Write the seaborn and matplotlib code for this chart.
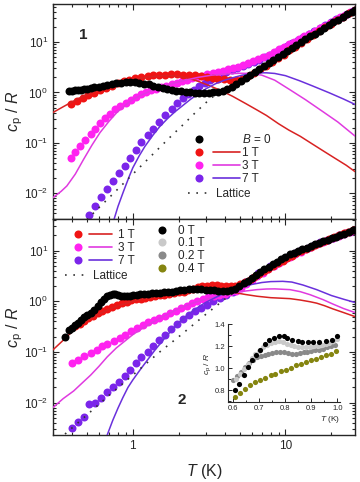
import matplotlib
matplotlib.use("Agg")
import matplotlib.pyplot as plt
import seaborn as sns
import numpy as np
import pandas as pd
from matplotlib.lines import Line2D
from matplotlib.legend_handler import HandlerTuple
from matplotlib.ticker import LogLocator, NullFormatter, MultipleLocator

# ---------------- panel 1 data ----------------
T1_b0 = [0.38, 0.40, 0.42, 0.44, 0.46, 0.48, 0.50, 0.53, 0.56, 0.60, 0.64, 0.68, 0.73, 0.78, 0.84,
         0.90, 0.96, 1.03, 1.10, 1.18, 1.27, 1.36, 1.46, 1.57, 1.68, 1.80, 1.93, 2.07, 2.22, 2.38,
         2.55, 2.73, 2.93, 3.14, 3.37, 3.61, 3.87, 4.15, 4.45, 4.77, 5.11, 5.48, 5.87, 6.30, 6.75,
         7.24, 7.76, 8.32, 8.92, 9.56, 10.25, 11.0, 11.8, 12.6, 13.5, 14.5, 15.6, 16.7, 17.9, 19.2,
         20.6, 22.1, 23.7, 25.4, 27.2, 28.4]
cp1_b0 = [1.08, 1.09, 1.10, 1.12, 1.14, 1.16, 1.18, 1.22, 1.26, 1.31, 1.36, 1.41, 1.47, 1.52, 1.56,
          1.58, 1.59, 1.58, 1.55, 1.50, 1.44, 1.37, 1.30, 1.24, 1.18, 1.13, 1.09, 1.05, 1.02, 1.00,
          0.99, 0.98, 0.98, 0.99, 1.00, 1.03, 1.08, 1.15, 1.28, 1.45, 1.68, 1.95, 2.20, 2.50, 2.85,
          3.30, 3.80, 4.40, 5.05, 5.80, 6.65, 7.6, 8.7, 9.9, 11.3, 12.9, 14.7, 16.7, 19.0, 21.6,
          24.5, 27.8, 31.5, 35.5, 40.0, 43.5]

T1_1T = [0.395, 0.43, 0.47, 0.51, 0.56, 0.61, 0.67, 0.73, 0.80, 0.87, 0.95, 1.04, 1.14, 1.25, 1.36,
         1.49, 1.63, 1.78, 1.95, 2.13, 2.33, 2.55, 2.78, 3.04, 3.33, 3.64, 3.98, 4.35, 4.75, 5.20,
         5.68, 6.21, 6.80, 7.43, 8.12, 8.88, 9.71, 10.6, 11.6, 12.7, 13.9, 15.2, 16.6, 18.2, 19.9,
         21.7, 23.8, 26.0, 28.4]
cp1_1T = [0.60, 0.68, 0.77, 0.87, 0.98, 1.10, 1.23, 1.37, 1.52, 1.66, 1.80, 1.92, 2.03, 2.12, 2.18,
          2.23, 2.26, 2.27, 2.27, 2.25, 2.22, 2.17, 2.10, 2.02, 1.94, 1.87, 1.82, 1.79, 1.80, 1.88,
          2.08, 2.40, 2.85, 3.35, 3.95, 4.75, 5.65, 6.8, 8.1, 9.7, 11.5, 13.8, 16.3, 19.5, 23.0,
          27.3, 32.0, 37.5, 44.0]

T1_3T = [0.395, 0.42, 0.45, 0.49, 0.53, 0.57, 0.61, 0.66, 0.71, 0.77, 0.83, 0.90, 0.97, 1.05, 1.13,
         1.22, 1.32, 1.43, 1.54, 1.66, 1.80, 1.94, 2.10, 2.27, 2.45, 2.64, 2.85, 3.08, 3.33, 3.59,
         3.88, 4.19, 4.52, 4.88, 5.27, 5.69, 6.15, 6.64, 7.17, 7.74, 8.36, 9.03, 9.75, 10.5, 11.4,
         12.3, 13.3, 14.3, 15.5, 16.7, 18.0, 19.5, 21.0, 22.7, 24.5, 26.5, 28.4]
cp1_3T = [0.051, 0.066, 0.087, 0.115, 0.147, 0.19, 0.25, 0.31, 0.38, 0.46, 0.54, 0.63, 0.72, 0.82, 0.92,
          1.01, 1.10, 1.18, 1.27, 1.36, 1.46, 1.56, 1.67, 1.78, 1.90, 2.02, 2.15, 2.28, 2.42, 2.56,
          2.72, 2.88, 3.05, 3.25, 3.50, 3.80, 4.15, 4.55, 5.0, 5.6, 6.3, 7.1, 8.0, 9.0, 10.2,
          11.5, 13.0, 14.6, 16.6, 18.7, 21.2, 24.0, 27.2, 30.8, 34.8, 39.5, 44.0]

T1_7T = [0.52, 0.57, 0.62, 0.68, 0.74, 0.81, 0.89, 0.96, 1.05, 1.14, 1.25, 1.36, 1.48, 1.63, 1.80,
         1.94, 2.12, 2.30, 2.50, 2.72, 2.95, 3.20, 3.48, 3.78, 4.10, 4.45, 4.83, 5.25, 5.70, 6.20,
         6.73, 7.31, 7.94, 8.62, 9.37, 10.2, 11.1, 12.0, 13.1, 14.2, 15.4, 16.8, 18.2, 19.8, 21.5,
         23.3, 25.4, 27.6]
cp1_7T = [0.0037, 0.0056, 0.0086, 0.012, 0.0175, 0.025, 0.035, 0.051, 0.072, 0.104, 0.143, 0.19, 0.26, 0.355, 0.46,
          0.62, 0.78, 0.95, 1.13, 1.33, 1.53, 1.75, 2.0, 2.25, 2.5, 2.75, 3.0, 3.3, 3.6, 4.0,
          4.45, 5.0, 5.6, 6.4, 7.3, 8.3, 9.5, 10.9, 12.5, 14.3, 16.4, 18.8, 21.5, 24.5, 28.0,
          32.0, 36.5, 41.5]

Tf1_1T = [0.30, 0.35, 0.40, 0.45, 0.50, 0.60, 0.70, 0.80, 0.90, 1.0, 1.2, 1.4, 1.6, 1.8, 2.0, 2.3, 2.7,
          3.2, 3.8, 4.5, 5.5, 6.5, 7.5, 9.0, 10.5, 12.5, 15, 18, 21, 25, 28.5]
cf1_1T = [0.40, 0.52, 0.65, 0.78, 0.90, 1.12, 1.32, 1.50, 1.65, 1.78, 1.98, 2.10, 2.16, 2.15, 2.08, 1.92, 1.65,
          1.35, 1.08, 0.84, 0.60, 0.45, 0.35, 0.24, 0.18, 0.135, 0.095, 0.067, 0.05, 0.036, 0.027]

Tf1_3T = [0.30, 0.34, 0.37, 0.42, 0.476, 0.54, 0.61, 0.70, 0.786, 0.88, 1.0, 1.15, 1.3, 1.5, 1.8, 2.2,
          2.7, 3.3, 4.0, 5.0, 6.0, 7.0, 8.5, 10.6, 13.5, 17.5, 22, 28.5]
cf1_3T = [0.0082, 0.011, 0.014, 0.024, 0.047, 0.09, 0.16, 0.27, 0.40, 0.54, 0.73, 0.90, 1.06, 1.25, 1.5, 1.75,
          2.0, 2.2, 2.32, 2.4, 2.38, 2.2, 1.75, 1.15, 0.72, 0.42, 0.26, 0.137]

Tf1_7T = [0.755, 0.80, 0.87, 0.95, 1.0, 1.1, 1.2, 1.35, 1.5, 1.7, 1.9, 2.14, 2.4, 2.7, 3.04, 3.5, 4.0,
          4.5, 5.2, 6.0, 7.0, 7.5, 8.5, 10, 12.4, 15, 19.4, 24, 28.5]
cf1_7T = [0.0031, 0.0055, 0.011, 0.022, 0.032, 0.055, 0.085, 0.14, 0.21, 0.31, 0.42, 0.56, 0.74, 0.95, 1.2, 1.5, 1.75,
          1.95, 2.2, 2.35, 2.45, 2.45, 2.38, 2.15, 1.7, 1.35, 0.98, 0.74, 0.58]

T1_lat = [0.50, 0.6, 0.7, 0.85, 1.0, 1.25, 1.5, 1.8, 2.2, 2.55, 3.0, 3.7, 4.5, 5.5, 7.0, 10, 15, 20, 28.5]
cp1_lat = [0.0030, 0.0052, 0.0082, 0.0147, 0.024, 0.047, 0.081, 0.14, 0.25, 0.39, 0.62, 1.06, 1.4, 2.05, 3.3,
           6.6, 14, 24, 44]

# ---------------- panel 2 data ----------------
T2_0T = [0.36, 0.38, 0.40, 0.42, 0.44, 0.46, 0.48, 0.50, 0.53, 0.56, 0.59, 0.62, 0.65, 0.68, 0.71,
         0.74, 0.77, 0.80, 0.84, 0.88, 0.92, 0.96, 1.00, 1.06, 1.12, 1.19, 1.26, 1.34, 1.42, 1.51,
         1.60, 1.70, 1.81, 1.93, 2.05, 2.18, 2.33, 2.48, 2.64, 2.81, 3.0, 3.2, 3.41, 3.63, 3.87,
         4.12, 4.39, 4.68, 4.98, 5.31, 5.65, 6.02, 6.42, 6.84, 7.28, 7.76, 8.27, 8.81, 9.38, 10.0,
         10.7, 11.4, 12.1, 12.9, 13.8, 14.7, 15.6, 16.6, 17.7, 18.9, 20.1, 21.4, 22.8, 24.3, 25.9,
         27.6, 28.4]
cp2_0T = [0.20, 0.27, 0.30, 0.34, 0.38, 0.43, 0.48, 0.53, 0.59, 0.68, 0.80, 0.95, 1.10, 1.25, 1.34,
          1.38, 1.40, 1.36, 1.30, 1.26, 1.27, 1.30, 1.33, 1.35, 1.38, 1.40, 1.42, 1.45, 1.47, 1.49,
          1.51, 1.53, 1.56, 1.60, 1.65, 1.70, 1.75, 1.77, 1.77, 1.75, 1.71, 1.68, 1.64, 1.60, 1.58,
          1.60, 1.67, 1.78, 1.98, 2.25, 2.55, 2.90, 3.30, 3.75, 4.25, 4.80, 5.4, 6.05, 6.8, 7.6,
          8.4, 9.1, 9.8, 10.6, 11.5, 12.4, 13.3, 14.3, 15.4, 16.5, 17.6, 18.8, 20.1, 21.6, 23.2,
          25.0, 26.0]

T2_1T = [0.42, 0.45, 0.48, 0.51, 0.55, 0.59, 0.63, 0.68, 0.73, 0.79, 0.85, 0.91, 0.98, 1.05, 1.13,
         1.21, 1.30, 1.40, 1.50, 1.61, 1.73, 1.86, 2.00, 2.15, 2.31, 2.48, 2.66, 2.86, 3.07, 3.30,
         3.54, 3.80, 4.08, 4.38, 4.70, 5.05, 5.42, 5.82, 6.25, 6.71, 7.20, 7.73, 8.30, 8.91, 9.57,
         10.3, 11.0, 11.8, 12.7, 13.6, 14.6, 15.7, 16.9, 18.1, 19.4, 20.9, 22.4, 24.1, 25.8, 27.7]
cp2_1T = [0.32, 0.36, 0.41, 0.46, 0.52, 0.58, 0.65, 0.72, 0.79, 0.86, 0.92, 0.98, 1.04, 1.09, 1.13,
          1.18, 1.23, 1.28, 1.32, 1.36, 1.40, 1.45, 1.50, 1.56, 1.64, 1.75, 1.88, 1.98, 2.04, 2.07,
          2.07, 2.04, 2.00, 1.98, 2.02, 2.15, 2.38, 2.68, 3.05, 3.45, 3.9, 4.4, 5.0, 5.65, 6.35,
          7.2, 8.0, 8.9, 9.9, 10.9, 12.0, 13.1, 14.4, 15.7, 17.0, 18.5, 20.1, 21.9, 23.8, 25.8]

T2_3T = [0.40, 0.44, 0.48, 0.53, 0.58, 0.63, 0.68, 0.75, 0.82, 0.89, 0.98, 1.07, 1.17, 1.26, 1.37,
         1.49, 1.62, 1.76, 1.91, 2.07, 2.25, 2.44, 2.65, 2.88, 3.12, 3.39, 3.68, 4.0, 4.34, 4.71,
         5.11, 5.55, 6.02, 6.54, 7.1, 7.7, 8.36, 9.08, 9.85, 10.7, 11.6, 12.6, 13.7, 14.8, 16.1,
         17.5, 19.0, 20.6, 22.4, 24.3, 26.3, 28.4]
cp2_3T = [0.061, 0.071, 0.082, 0.096, 0.11, 0.13, 0.144, 0.163, 0.19, 0.22, 0.256, 0.30, 0.336, 0.385, 0.42,
          0.47, 0.52, 0.58, 0.65, 0.73, 0.82, 0.92, 1.02, 1.12, 1.20, 1.28, 1.35, 1.42, 1.50, 1.62,
          1.85, 2.2, 2.6, 3.1, 3.65, 4.25, 4.95, 5.75, 6.6, 7.5, 8.5, 9.6, 10.8, 12.0, 13.4,
          14.8, 16.3, 17.9, 19.7, 21.6, 23.6, 26.0]

T2_7T = [0.40, 0.435, 0.48, 0.52, 0.57, 0.62, 0.68, 0.74, 0.81, 0.89, 0.96, 1.05, 1.14, 1.25, 1.36,
         1.48, 1.63, 1.77, 1.94, 2.12, 2.32, 2.55, 2.79, 3.05, 3.35, 3.7, 4.07, 4.5, 4.95, 5.45,
         6.0, 6.6, 7.25, 7.95, 8.75, 9.6, 10.55, 11.6, 12.7, 14.0, 15.4, 16.9, 18.6, 20.4, 22.5,
         24.7, 27.1]
cp2_7T = [0.0032, 0.0042, 0.0052, 0.0095, 0.0099, 0.0125, 0.016, 0.020, 0.026, 0.034, 0.045, 0.061, 0.079, 0.10, 0.13,
          0.17, 0.22, 0.29, 0.36, 0.44, 0.53, 0.64, 0.75, 0.86, 1.0, 1.17, 1.35, 1.53, 1.9, 2.4,
          2.95, 3.55, 4.2, 4.9, 5.75, 6.7, 7.8, 9.0, 10.1, 11.5, 13.0, 14.6, 16.3, 18.0, 20.0,
          22.2, 24.8]

Tf2_1T = [0.30, 0.35, 0.40, 0.45, 0.50, 0.60, 0.70, 0.80, 1.0, 1.2, 1.5, 2.0, 2.5, 3.0, 3.5, 4.2, 4.8,
          5.5, 6.5, 8.0, 9.5, 10.7, 12.5, 14.5, 16, 18, 20.4, 24, 28.5]
cf2_1T = [0.11, 0.17, 0.25, 0.33, 0.41, 0.56, 0.70, 0.82, 1.0, 1.13, 1.28, 1.43, 1.52, 1.57, 1.58, 1.53, 1.46,
          1.36, 1.26, 1.18, 1.15, 1.13, 1.06, 0.98, 0.92, 0.82, 0.71, 0.60, 0.50]

Tf2_3T = [0.30, 0.35, 0.41, 0.47, 0.53, 0.60, 0.68, 0.78, 0.9, 1.0, 1.15, 1.3, 1.5, 1.7, 2.0, 2.4, 2.75,
          3.3, 4.0, 4.8, 5.5, 6.5, 7.5, 8.5, 10.7, 12.5, 14.5, 17.6, 20.5, 24, 28.5]
cf2_3T = [0.008, 0.012, 0.017, 0.025, 0.035, 0.052, 0.08, 0.12, 0.17, 0.22, 0.29, 0.36, 0.46, 0.56, 0.72, 0.9, 1.02,
          1.18, 1.35, 1.5, 1.6, 1.7, 1.75, 1.76, 1.7, 1.55, 1.35, 1.08, 0.88, 0.72, 0.60]

Tf2_7T = [0.68, 0.74, 0.80, 0.86, 0.93, 1.0, 1.12, 1.25, 1.4, 1.6, 1.8, 2.04, 2.3, 2.6, 3.0, 3.5, 4.0,
          5.0, 6.0, 7.0, 8.0, 9.6, 11, 13, 16, 20, 24, 28.5]
cf2_7T = [0.0023, 0.0045, 0.0078, 0.0125, 0.02, 0.028, 0.045, 0.07, 0.11, 0.18, 0.27, 0.40, 0.55, 0.72, 0.95, 1.2, 1.45,
          1.85, 2.15, 2.35, 2.45, 2.48, 2.4, 2.1, 1.7, 1.3, 1.1, 0.95]

T2_lat = [0.36, 0.5, 0.7, 1.0, 1.5, 2.0, 3.0, 4.0, 5.0, 7.0, 10, 15, 20, 28.5]
cp2_lat = [0.0024, 0.0057, 0.014, 0.035, 0.10, 0.20, 0.55, 1.1, 1.8, 3.5, 7.0, 13, 18, 27]

# ---------------- inset data ----------------
Ti_0T = [0.606, 0.62, 0.64, 0.655, 0.672, 0.688, 0.704, 0.723, 0.736, 0.756, 0.775, 0.795, 0.808,
         0.827, 0.847, 0.866, 0.886, 0.905, 0.931, 0.957, 0.98, 0.999]
ci_0T = [0.80, 0.86, 0.94, 1.01, 1.074, 1.126, 1.165, 1.226, 1.257, 1.272, 1.296, 1.296, 1.278,
         1.257, 1.248, 1.236, 1.236, 1.242, 1.242, 1.248, 1.255, 1.296]
Ti_01 = [0.61, 0.625, 0.64, 0.655, 0.67, 0.685, 0.70, 0.715, 0.73, 0.745, 0.76, 0.775, 0.79, 0.805,
         0.82, 0.835, 0.85, 0.865, 0.88, 0.895, 0.91, 0.925, 0.94, 0.955, 0.97, 0.985, 1.0]
ci_01 = [0.90, 0.95, 0.99, 1.04, 1.09, 1.13, 1.16, 1.19, 1.21, 1.23, 1.24, 1.245, 1.24, 1.225,
         1.21, 1.20, 1.19, 1.19, 1.19, 1.195, 1.20, 1.205, 1.21, 1.22, 1.235, 1.25, 1.27]
Ti_02 = [0.60, 0.615, 0.63, 0.645, 0.66, 0.675, 0.69, 0.705, 0.72, 0.735, 0.75, 0.765, 0.78, 0.795,
         0.81, 0.825, 0.84, 0.855, 0.87, 0.885, 0.90, 0.915, 0.93, 0.945, 0.96, 0.975, 0.99]
ci_02 = [0.89, 0.93, 0.97, 1.01, 1.05, 1.08, 1.10, 1.115, 1.125, 1.13, 1.14, 1.15, 1.15, 1.145,
         1.14, 1.135, 1.135, 1.14, 1.145, 1.15, 1.16, 1.165, 1.17, 1.18, 1.19, 1.20, 1.21]
Ti_04 = [0.606, 0.626, 0.645, 0.665, 0.684, 0.704, 0.723, 0.743, 0.762, 0.782, 0.801, 0.821, 0.840,
         0.860, 0.879, 0.899, 0.918, 0.938, 0.957, 0.977, 0.996]
ci_04 = [0.739, 0.779, 0.815, 0.845, 0.876, 0.897, 0.915, 0.937, 0.952, 0.973, 0.988, 1.007, 1.028,
         1.043, 1.058, 1.074, 1.089, 1.104, 1.12, 1.135, 1.156]

# colours
c_red, c_red_l = "#f01414", "#d82222"
c_mag, c_mag_l = "#ff22f0", "#e03ae0"
c_pur, c_pur_l = "#7b25ea", "#6a30dc"
c_lat = "#333333"

sns.set_style("ticks")
plt.rcParams["font.family"] = ["Liberation Sans", "DejaVu Sans"]
plt.rcParams["mathtext.fontset"] = "custom"
plt.rcParams["mathtext.rm"] = "Liberation Sans"
plt.rcParams["mathtext.it"] = "Liberation Sans:italic"
plt.rcParams["axes.linewidth"] = 1.0

fig = plt.figure(figsize=(3.6, 4.82), dpi=100)
ax1 = fig.add_axes([0.147, 0.5456, 0.839, 0.446])
ax2 = fig.add_axes([0.147, 0.0975, 0.839, 0.448])

S = 33


def pts(ax, T, cp, color, z=2):
    sns.scatterplot(x=T, y=cp, ax=ax, color=color, s=S, linewidth=0, zorder=z, legend=False)


def crv(ax, T, cp, color, lw=1.1, z=3):
    d = pd.DataFrame({"T": T, "cp": cp})
    sns.lineplot(data=d, x="T", y="cp", ax=ax, color=color, lw=lw, zorder=z,
                 estimator=None, sort=False, legend=False)


for ax in (ax1, ax2):
    ax.set_xscale("log")
    ax.set_yscale("log")

# panel 1
pts(ax1, T1_7T, cp1_7T, c_pur)
pts(ax1, T1_3T, cp1_3T, c_mag)
pts(ax1, T1_1T, cp1_1T, c_red)
crv(ax1, Tf1_1T, cf1_1T, c_red_l)
crv(ax1, Tf1_3T, cf1_3T, c_mag_l)
crv(ax1, Tf1_7T, cf1_7T, c_pur_l)
crv(ax1, T1_lat, cp1_lat, c_lat, lw=1.2)
ax1.lines[-1].set_dashes((1, 4))
pts(ax1, T1_b0, cp1_b0, "black", z=3.5)

# panel 2
pts(ax2, T2_7T, cp2_7T, c_pur)
pts(ax2, T2_3T, cp2_3T, c_mag)
pts(ax2, T2_1T, cp2_1T, c_red)
crv(ax2, Tf2_1T, cf2_1T, c_red_l)
crv(ax2, Tf2_3T, cf2_3T, c_mag_l)
crv(ax2, Tf2_7T, cf2_7T, c_pur_l)
crv(ax2, T2_lat, cp2_lat, c_lat, lw=1.2)
ax2.lines[-1].set_dashes((1, 4))
pts(ax2, T2_0T, cp2_0T, "black", z=3.5)

ax1.set_ylim(0.0031, 56.5)
ax2.set_ylim(0.0023, 42)
for ax in (ax1, ax2):
    ax.set_xlim(0.30, 28.5)
    ax.xaxis.set_major_locator(LogLocator(base=10, numticks=10))
    ax.xaxis.set_minor_locator(LogLocator(base=10, subs=np.arange(2, 10), numticks=20))
    ax.yaxis.set_major_locator(LogLocator(base=10, numticks=10))
    ax.yaxis.set_minor_locator(LogLocator(base=10, subs=np.arange(2, 10), numticks=20))
    ax.xaxis.set_minor_formatter(NullFormatter())
    ax.yaxis.set_minor_formatter(NullFormatter())
    ax.tick_params(which="both", direction="in", top=True, right=True, labelsize=8.5, width=0.8)
    ax.tick_params(which="major", length=4.5)
    ax.tick_params(which="minor", length=2.5)
    ax.set_ylabel(r"$c_\mathrm{p}$ / $R$", fontsize=11.5)
    ax.yaxis.set_label_coords(-0.092, 0.5)
    ax.set_xlabel("")

ax1.set_xticks([1, 10])
ax1.set_xticklabels(["", ""])
ax2.set_xticks([1, 10])
ax2.set_xticklabels(["1", "10"])
ax2.set_xlim(0.30, 28.5)
ax1.set_xlim(0.30, 28.5)
ax2.set_xlabel(r"$T$ (K)", fontsize=11.5)
ax2.xaxis.set_label_coords(0.5, -0.125)

ax1.text(0.10, 0.856, "1", transform=ax1.transAxes, fontsize=11, fontweight="bold",
         ha="center", va="center")
ax2.text(0.426, 0.162, "2", transform=ax2.transAxes, fontsize=11, fontweight="bold",
         ha="center", va="center")

# legends
ms = 5.8


def mk(c):
    return Line2D([], [], marker="o", ls="none", color=c, markersize=ms, markeredgewidth=0)


def ln(c):
    return Line2D([], [], color=c, lw=1.2)


blank = Line2D([], [], ls="none")
dots = Line2D([], [], color=c_lat, lw=1.2, dashes=(1, 4))

h1 = [(mk("black"), blank), (mk(c_red), ln(c_red_l)), (mk(c_mag), ln(c_mag_l)), (mk(c_pur), ln(c_pur_l))]
leg1 = ax1.legend(h1, [r"$B$ = 0", "1 T", "3 T", "7 T"], loc="upper left",
                  bbox_to_anchor=(0.44, 0.40), frameon=False, fontsize=8.5, borderpad=0,
                  borderaxespad=0, handlelength=4.57, handletextpad=0.17, labelspacing=0.08,
                  handler_map={tuple: HandlerTuple(ndivide=None, pad=0)})
ax1.add_artist(leg1)
ax1.legend([dots], ["Lattice"], loc="upper left", bbox_to_anchor=(0.447, 0.143), frameon=False,
           fontsize=8.5, borderpad=0, borderaxespad=0, handlelength=2.0, handletextpad=0.4)

h2 = [(mk(c_red), ln(c_red_l)), (mk(c_mag), ln(c_mag_l)), (mk(c_pur), ln(c_pur_l))]
leg2a = ax2.legend(h2, ["1 T", "3 T", "7 T"], loc="upper left", bbox_to_anchor=(0.046, 0.954),
                   frameon=False, fontsize=8.5, borderpad=0, borderaxespad=0, handlelength=3.79,
                   handletextpad=0.56, labelspacing=0.1,
                   handler_map={tuple: HandlerTuple(ndivide=None, pad=0)})
ax2.add_artist(leg2a)
leg2b = ax2.legend([dots], ["Lattice"], loc="upper left", bbox_to_anchor=(0.04, 0.764), frameon=False,
                   fontsize=8.5, borderpad=0, borderaxespad=0, handlelength=1.84, handletextpad=0.56)
ax2.add_artist(leg2b)
ax2.legend([mk("black"), mk("#c9c9c9"), mk("#8a8a8a"), mk("#858510")], ["0 T", "0.1 T", "0.2 T", "0.4 T"],
           loc="upper left", bbox_to_anchor=(0.34, 0.973), frameon=False, fontsize=8.5, borderpad=0,
           borderaxespad=0, handlelength=1.0, handletextpad=0.9, labelspacing=0.05)

# inset
axi = fig.add_axes([0.634, 0.165, 0.31, 0.162])
si = 14
sns.scatterplot(x=Ti_04, y=ci_04, ax=axi, color="#858510", s=si, linewidth=0, legend=False, zorder=2)
sns.scatterplot(x=Ti_02, y=ci_02, ax=axi, color="#8a8a8a", s=si, linewidth=0, legend=False, zorder=2)
sns.scatterplot(x=Ti_01, y=ci_01, ax=axi, color="#c9c9c9", s=si, linewidth=0, legend=False, zorder=2)
sns.scatterplot(x=Ti_0T, y=ci_0T, ax=axi, color="black", s=si, linewidth=0, legend=False, zorder=3)
axi.set_xlim(0.58, 1.01)
axi.set_ylim(0.69, 1.40)
axi.patch.set_alpha(0)
for sp in ("top", "right"):
    axi.spines[sp].set_visible(False)
axi.spines["left"].set_linewidth(0.8)
axi.spines["bottom"].set_linewidth(0.8)
axi.xaxis.set_minor_locator(MultipleLocator(0.05))
axi.yaxis.set_minor_locator(MultipleLocator(0.1))
axi.set_xticks([0.6, 0.7, 0.8, 0.9, 1.0])
axi.set_xticklabels(["0.6", "0.7", "0.8", "0.9", "1.0"])
axi.set_yticks([0.8, 1.0, 1.2, 1.4])
axi.set_yticklabels(["0.8", "1.0", "1.2", "1.4"])
axi.tick_params(which="both", direction="in", labelsize=5.5, width=0.7, pad=2)
axi.tick_params(which="major", length=3)
axi.tick_params(which="minor", length=1.8)
axi.set_xlabel(r"$T$ (K)", fontsize=6, loc="right", labelpad=1)
axi.set_ylabel(r"$c_\mathrm{p}$ / $R$", fontsize=6, labelpad=1)

fig.savefig("out.png", dpi=100)
